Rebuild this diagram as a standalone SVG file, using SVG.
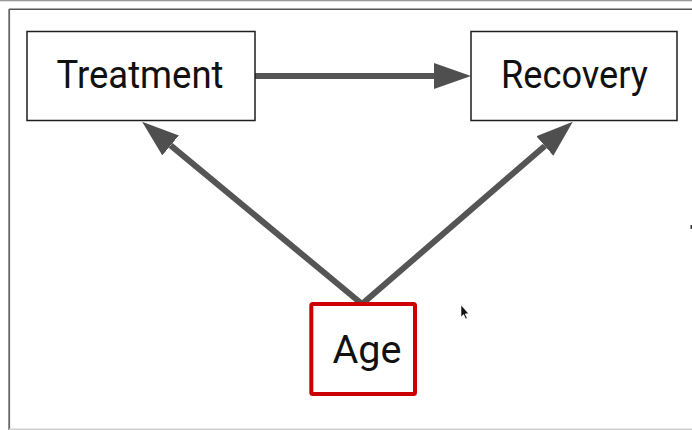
<svg xmlns="http://www.w3.org/2000/svg" width="692" height="430" viewBox="0 0 692 430">
  <style>
    .node-box { fill: #ffffff; stroke: #1e1e1e; stroke-width: 1.5; }
    .node-key { fill: #ffffff; stroke: #cc0000; stroke-width: 4; }
    .label { font-family: Roboto, "Liberation Sans", sans-serif; font-size: 39px; fill: #111111; }
    .edge { fill: none; stroke: #555555; stroke-width: 6; }
  </style>
  <defs>
    <marker id="head" viewBox="0 0 37 26" markerWidth="37" markerHeight="26" refX="0" refY="13" orient="auto" markerUnits="userSpaceOnUse">
      <path d="M0,0 L37,13 L0,26 z" fill="#4f4f4f"/>
    </marker>
  </defs>

  <!-- canvas and frame -->
  <rect x="0" y="0" width="692" height="430" fill="#ffffff"/>
  <rect x="0" y="0" width="692" height="1.3" fill="#9a9a9a"/>
  <line x1="9" y1="9.2" x2="692" y2="9.2" stroke="#555555" stroke-width="1.6"/>
  <line x1="9.2" y1="9" x2="9.2" y2="430" stroke="#666666" stroke-width="1.8"/>
  <line x1="9" y1="429.3" x2="692" y2="429.3" stroke="#cfcfcf" stroke-width="1.4"/>
  <rect x="690.5" y="225" width="1.5" height="4" fill="#333333"/>

  <!-- connectors -->
  <g id="edges">
    <path id="edge-treatment-recovery" class="edge" d="M255,76 L434,76" marker-end="url(#head)"/>
    <path id="edge-age-treatment" class="edge" d="M362,304 L170.6,145.4" marker-end="url(#head)"/>
    <path id="edge-age-recovery" class="edge" d="M362,304 L544.8,146" marker-end="url(#head)"/>
  </g>

  <!-- nodes -->
  <g id="node-treatment">
    <rect class="node-box" x="27" y="31.5" width="228" height="89"/>
    <text class="label" x="56.5" y="88.3" textLength="167" lengthAdjust="spacingAndGlyphs">Treatment</text>
  </g>
  <g id="node-recovery">
    <rect class="node-box" x="471" y="31.5" width="206" height="89"/>
    <text class="label" x="501" y="87.5" textLength="147" lengthAdjust="spacingAndGlyphs">Recovery</text>
  </g>
  <g id="node-age">
    <rect class="node-key" x="311.3" y="304" width="103.7" height="90" rx="1.5"/>
    <text class="label" x="332.5" y="362.7" textLength="69" lengthAdjust="spacingAndGlyphs">Age</text>
  </g>

  <!-- pointer -->
  <path d="M461,305 L461,317 L463.6,314.6 L465.6,319 L467.2,318.2 L465.2,313.9 L468.6,313.6 z" fill="#111111" stroke="#ffffff" stroke-width="0.6"/>
</svg>
